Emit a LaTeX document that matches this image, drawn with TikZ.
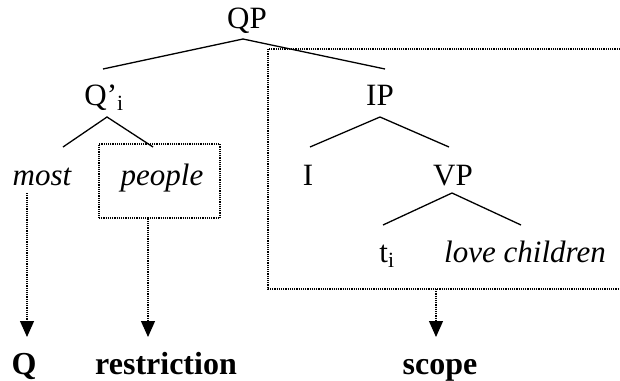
\documentclass[tikz,border=0pt]{standalone}
\usepackage{fontspec}
\setmainfont{Liberation Serif}
\usetikzlibrary{arrows.meta}
\begin{document}
\begin{tikzpicture}[x=1pt,y=-1pt,
  lbl/.style={inner sep=0pt,anchor=base,font=\fontsize{31}{35}\selectfont},
  bold/.style={lbl,font=\fontsize{32}{36}\selectfont\bfseries},
  branch/.style={line width=1.3pt},
  dots/.style={line width=1.2pt,densely dotted},
  darrow/.style={dots,-{Triangle[width=14pt,length=16pt]}}]
\useasboundingbox (0,0) rectangle (620,380);
% tree labels
\node[lbl] (QP) at (247,28) {QP};
\node[lbl] (Qi) at (104,105) {Q’\textsubscript{i}};
\node[lbl] (IP) at (380,105) {IP};
\node[lbl] (most) at (42,185) {\itshape most};
\node[lbl] (people) at (162,185) {\itshape people};
\node[lbl] (I) at (308,185) {I};
\node[lbl] (VP) at (453,185) {VP};
\node[lbl] (ti) at (387,262) {t\textsubscript{i}};
\node[lbl] (lc) at (525,262) {\itshape love children};
\node[bold] (Q) at (24,374) {Q};
\node[bold] (restr) at (166,374) {restriction};
\node[bold] (scope) at (440,374) {scope};
% branch points
\coordinate (qpA) at (243,39);
\coordinate (qpL) at (103,69);
\coordinate (qpR) at (385,69);
\coordinate (qiA) at (107,117);
\coordinate (qiL) at (63,147);
\coordinate (qiR) at (153,147);
\coordinate (ipA) at (380,117);
\coordinate (ipL) at (310,147);
\coordinate (ipR) at (449,147);
\coordinate (vpA) at (452,193);
\coordinate (vpL) at (383,225);
\coordinate (vpR) at (521,225);
\draw[branch] (qpL) -- (qpA) -- (qpR);
\draw[branch] (qiL) -- (qiA) -- (qiR);
\draw[branch] (ipL) -- (ipA) -- (ipR);
\draw[branch] (vpL) -- (vpA) -- (vpR);
% restriction box
\node[draw,dots,minimum width=121pt,minimum height=74pt,inner sep=0pt] (pbox) at (159.5,181) {};
% scope box (open to the right edge)
\coordinate (sTR) at (620,49);
\coordinate (sTL) at (268,49);
\coordinate (sBL) at (268,289);
\coordinate (sBR) at (620,289);
\draw[dots] (sTR) -- (sTL) -- (sBL) -- (sBR);
% arrows
\coordinate (mostS) at (27,193);
\coordinate (scS) at (436,289);
\coordinate (qT) at (27,337);
\coordinate (rT) at (148,337);
\coordinate (sT) at (436,337);
\draw[darrow] (mostS) -- (qT);
\draw[darrow] (pbox.south -| rT) -- (rT);
\draw[darrow] (scS) -- (sT);
\end{tikzpicture}
\end{document}
